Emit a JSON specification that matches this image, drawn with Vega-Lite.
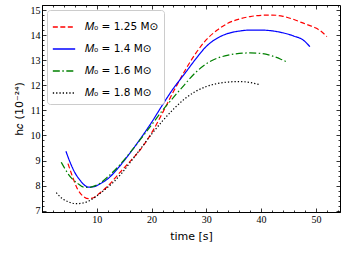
{
  "$schema": "https://vega.github.io/schema/vega-lite/v6.json",
  "width": 298,
  "height": 207,
  "autosize": {"type": "none"},
  "padding": {"left": 42, "top": 5, "right": 6, "bottom": 42},
  "background": "white",
  "config": {
    "view": {"stroke": "black", "strokeWidth": 1},
    "axis": {"grid": false, "domainColor": "black", "tickColor": "black", "labelColor": "black", "titleColor": "black"}
  },
  "datasets": {
    "curves": [
      {"s": "𝑀₀ = 1.25 M⊙", "t": 4.74, "h": 8.88}, {"s": "𝑀₀ = 1.25 M⊙", "t": 5.5, "h": 8.4}, {"s": "𝑀₀ = 1.25 M⊙", "t": 6.5, "h": 7.86}, {"s": "𝑀₀ = 1.25 M⊙", "t": 7.5, "h": 7.58}, {"s": "𝑀₀ = 1.25 M⊙", "t": 8.5, "h": 7.48}, {"s": "𝑀₀ = 1.25 M⊙", "t": 9.5, "h": 7.53}, {"s": "𝑀₀ = 1.25 M⊙", "t": 10.5, "h": 7.7}, {"s": "𝑀₀ = 1.25 M⊙", "t": 12, "h": 7.98}, {"s": "𝑀₀ = 1.25 M⊙", "t": 14, "h": 8.47}, {"s": "𝑀₀ = 1.25 M⊙", "t": 16, "h": 8.95}, {"s": "𝑀₀ = 1.25 M⊙", "t": 18, "h": 9.45}, {"s": "𝑀₀ = 1.25 M⊙", "t": 20, "h": 10.1}, {"s": "𝑀₀ = 1.25 M⊙", "t": 22, "h": 10.9}, {"s": "𝑀₀ = 1.25 M⊙", "t": 24, "h": 11.75}, {"s": "𝑀₀ = 1.25 M⊙", "t": 26, "h": 12.55}, {"s": "𝑀₀ = 1.25 M⊙", "t": 28, "h": 13.25}, {"s": "𝑀₀ = 1.25 M⊙", "t": 30, "h": 13.82}, {"s": "𝑀₀ = 1.25 M⊙", "t": 32, "h": 14.2}, {"s": "𝑀₀ = 1.25 M⊙", "t": 34, "h": 14.48}, {"s": "𝑀₀ = 1.25 M⊙", "t": 36, "h": 14.64}, {"s": "𝑀₀ = 1.25 M⊙", "t": 38, "h": 14.74}, {"s": "𝑀₀ = 1.25 M⊙", "t": 40, "h": 14.79}, {"s": "𝑀₀ = 1.25 M⊙", "t": 42, "h": 14.8}, {"s": "𝑀₀ = 1.25 M⊙", "t": 44, "h": 14.75}, {"s": "𝑀₀ = 1.25 M⊙", "t": 46, "h": 14.62}, {"s": "𝑀₀ = 1.25 M⊙", "t": 48, "h": 14.45}, {"s": "𝑀₀ = 1.25 M⊙", "t": 50, "h": 14.28}, {"s": "𝑀₀ = 1.25 M⊙", "t": 51, "h": 14.14}, {"s": "𝑀₀ = 1.25 M⊙", "t": 52, "h": 13.94},
      {"s": "𝑀₀ = 1.4 M⊙", "t": 4.37, "h": 9.37}, {"s": "𝑀₀ = 1.4 M⊙", "t": 5, "h": 9.0}, {"s": "𝑀₀ = 1.4 M⊙", "t": 6, "h": 8.52}, {"s": "𝑀₀ = 1.4 M⊙", "t": 7, "h": 8.2}, {"s": "𝑀₀ = 1.4 M⊙", "t": 7.6, "h": 8.05}, {"s": "𝑀₀ = 1.4 M⊙", "t": 8.5, "h": 7.94}, {"s": "𝑀₀ = 1.4 M⊙", "t": 9.5, "h": 7.96}, {"s": "𝑀₀ = 1.4 M⊙", "t": 10.5, "h": 8.06}, {"s": "𝑀₀ = 1.4 M⊙", "t": 12, "h": 8.27}, {"s": "𝑀₀ = 1.4 M⊙", "t": 14, "h": 8.73}, {"s": "𝑀₀ = 1.4 M⊙", "t": 16, "h": 9.28}, {"s": "𝑀₀ = 1.4 M⊙", "t": 18, "h": 9.88}, {"s": "𝑀₀ = 1.4 M⊙", "t": 20, "h": 10.52}, {"s": "𝑀₀ = 1.4 M⊙", "t": 22, "h": 11.22}, {"s": "𝑀₀ = 1.4 M⊙", "t": 24, "h": 11.88}, {"s": "𝑀₀ = 1.4 M⊙", "t": 26, "h": 12.45}, {"s": "𝑀₀ = 1.4 M⊙", "t": 28, "h": 13.03}, {"s": "𝑀₀ = 1.4 M⊙", "t": 30, "h": 13.55}, {"s": "𝑀₀ = 1.4 M⊙", "t": 32, "h": 13.88}, {"s": "𝑀₀ = 1.4 M⊙", "t": 34, "h": 14.07}, {"s": "𝑀₀ = 1.4 M⊙", "t": 36, "h": 14.16}, {"s": "𝑀₀ = 1.4 M⊙", "t": 38, "h": 14.2}, {"s": "𝑀₀ = 1.4 M⊙", "t": 40, "h": 14.2}, {"s": "𝑀₀ = 1.4 M⊙", "t": 42, "h": 14.17}, {"s": "𝑀₀ = 1.4 M⊙", "t": 44, "h": 14.09}, {"s": "𝑀₀ = 1.4 M⊙", "t": 46, "h": 13.96}, {"s": "𝑀₀ = 1.4 M⊙", "t": 47.7, "h": 13.8}, {"s": "𝑀₀ = 1.4 M⊙", "t": 48.9, "h": 13.54},
      {"s": "𝑀₀ = 1.6 M⊙", "t": 3.52, "h": 8.93}, {"s": "𝑀₀ = 1.6 M⊙", "t": 4.2, "h": 8.67}, {"s": "𝑀₀ = 1.6 M⊙", "t": 4.86, "h": 8.44}, {"s": "𝑀₀ = 1.6 M⊙", "t": 5.6, "h": 8.25}, {"s": "𝑀₀ = 1.6 M⊙", "t": 6.4, "h": 8.11}, {"s": "𝑀₀ = 1.6 M⊙", "t": 7.6, "h": 7.94}, {"s": "𝑀₀ = 1.6 M⊙", "t": 8.5, "h": 7.93}, {"s": "𝑀₀ = 1.6 M⊙", "t": 9.5, "h": 7.98}, {"s": "𝑀₀ = 1.6 M⊙", "t": 10.6, "h": 8.1}, {"s": "𝑀₀ = 1.6 M⊙", "t": 12, "h": 8.35}, {"s": "𝑀₀ = 1.6 M⊙", "t": 14, "h": 8.78}, {"s": "𝑀₀ = 1.6 M⊙", "t": 16, "h": 9.3}, {"s": "𝑀₀ = 1.6 M⊙", "t": 18, "h": 9.85}, {"s": "𝑀₀ = 1.6 M⊙", "t": 20, "h": 10.42}, {"s": "𝑀₀ = 1.6 M⊙", "t": 22, "h": 11.0}, {"s": "𝑀₀ = 1.6 M⊙", "t": 24, "h": 11.52}, {"s": "𝑀₀ = 1.6 M⊙", "t": 26, "h": 12.02}, {"s": "𝑀₀ = 1.6 M⊙", "t": 28, "h": 12.5}, {"s": "𝑀₀ = 1.6 M⊙", "t": 30, "h": 12.86}, {"s": "𝑀₀ = 1.6 M⊙", "t": 32, "h": 13.08}, {"s": "𝑀₀ = 1.6 M⊙", "t": 34, "h": 13.2}, {"s": "𝑀₀ = 1.6 M⊙", "t": 36, "h": 13.27}, {"s": "𝑀₀ = 1.6 M⊙", "t": 38, "h": 13.29}, {"s": "𝑀₀ = 1.6 M⊙", "t": 40, "h": 13.27}, {"s": "𝑀₀ = 1.6 M⊙", "t": 42, "h": 13.17}, {"s": "𝑀₀ = 1.6 M⊙", "t": 43.5, "h": 13.05}, {"s": "𝑀₀ = 1.6 M⊙", "t": 44.5, "h": 12.95},
      {"s": "𝑀₀ = 1.8 M⊙", "t": 2.6, "h": 7.72}, {"s": "𝑀₀ = 1.8 M⊙", "t": 3.3, "h": 7.56}, {"s": "𝑀₀ = 1.8 M⊙", "t": 3.94, "h": 7.45}, {"s": "𝑀₀ = 1.8 M⊙", "t": 5, "h": 7.34}, {"s": "𝑀₀ = 1.8 M⊙", "t": 5.77, "h": 7.29}, {"s": "𝑀₀ = 1.8 M⊙", "t": 6.4, "h": 7.28}, {"s": "𝑀₀ = 1.8 M⊙", "t": 7.5, "h": 7.31}, {"s": "𝑀₀ = 1.8 M⊙", "t": 8.5, "h": 7.38}, {"s": "𝑀₀ = 1.8 M⊙", "t": 9.4, "h": 7.5}, {"s": "𝑀₀ = 1.8 M⊙", "t": 10.3, "h": 7.64}, {"s": "𝑀₀ = 1.8 M⊙", "t": 11.5, "h": 7.85}, {"s": "𝑀₀ = 1.8 M⊙", "t": 13, "h": 8.13}, {"s": "𝑀₀ = 1.8 M⊙", "t": 14.5, "h": 8.48}, {"s": "𝑀₀ = 1.8 M⊙", "t": 16, "h": 8.9}, {"s": "𝑀₀ = 1.8 M⊙", "t": 18, "h": 9.47}, {"s": "𝑀₀ = 1.8 M⊙", "t": 20, "h": 10.05}, {"s": "𝑀₀ = 1.8 M⊙", "t": 22, "h": 10.58}, {"s": "𝑀₀ = 1.8 M⊙", "t": 24, "h": 11.05}, {"s": "𝑀₀ = 1.8 M⊙", "t": 26, "h": 11.45}, {"s": "𝑀₀ = 1.8 M⊙", "t": 28, "h": 11.75}, {"s": "𝑀₀ = 1.8 M⊙", "t": 30, "h": 11.95}, {"s": "𝑀₀ = 1.8 M⊙", "t": 32, "h": 12.07}, {"s": "𝑀₀ = 1.8 M⊙", "t": 34, "h": 12.13}, {"s": "𝑀₀ = 1.8 M⊙", "t": 36, "h": 12.15}, {"s": "𝑀₀ = 1.8 M⊙", "t": 38, "h": 12.11}, {"s": "𝑀₀ = 1.8 M⊙", "t": 39.8, "h": 12.02}
    ]
  },
  "data": {"name": "curves"},
  "resolve": {"axis": {"x": "independent", "y": "independent"}},
  "layer": [
    {
      "mark": {"type": "line", "interpolate": "monotone", "strokeWidth": 1.2},
      "encoding": {
        "x": {"field": "t", "type": "quantitative", "scale": {"domain": [0, 54.4], "nice": false, "zero": false},
          "axis": {"orient": "bottom", "title": "time [s]", "titleFont": "DejaVu Sans", "titleFontSize": 11, "titleFontWeight": "normal", "titlePadding": 4,
            "values": [0,2,4,6,8,10,12,14,16,18,20,22,24,26,28,30,32,34,36,38,40,42,44,46,48,50,52,54],
            "labelExpr": "datum.value % 10 === 0 && datum.value > 0 ? datum.label : ''",
            "labelFont": "Liberation Serif", "labelFontSize": 10, "labelPadding": 6,
            "tickSize": {"condition": {"test": "datum.value % 10 === 0", "value": -4}, "value": -2},
            "tickWidth": 0.8, "domainWidth": 1, "labelFlush": false, "labelOverlap": false}},
        "y": {"field": "h", "type": "quantitative", "scale": {"domain": [6.95, 15.2], "nice": false, "zero": false},
          "axis": {"orient": "left", "title": "h𝑐 (10⁻²⁴)", "titleFont": "DejaVu Sans", "titleFontSize": 11, "titleFontWeight": "normal", "titlePadding": 6,
            "values": [7,7.2,7.4,7.6,7.8,8,8.2,8.4,8.6,8.8,9,9.2,9.4,9.6,9.8,10,10.2,10.4,10.6,10.8,11,11.2,11.4,11.6,11.8,12,12.2,12.4,12.6,12.8,13,13.2,13.4,13.6,13.8,14,14.2,14.4,14.6,14.8,15],
            "labelExpr": "abs(datum.value - round(datum.value)) < 0.01 ? format(datum.value, 'd') : ''",
            "labelFont": "Liberation Serif", "labelFontSize": 10, "labelPadding": 6,
            "tickSize": {"condition": {"test": "abs(datum.value - round(datum.value)) < 0.01", "value": -4}, "value": -2},
            "tickWidth": 0.8, "domainWidth": 1, "labelFlush": false, "labelOverlap": false}},
        "color": {"field": "s", "type": "nominal",
          "scale": {"domain": ["𝑀₀ = 1.25 M⊙", "𝑀₀ = 1.4 M⊙", "𝑀₀ = 1.6 M⊙", "𝑀₀ = 1.8 M⊙"], "range": ["#ff0000", "#0000ff", "#008000", "#000000"]},
          "legend": {"title": null, "orient": "top-left", "offset": 5, "symbolType": "stroke", "symbolSize": 500, "symbolStrokeWidth": 1.3,
            "labelFont": "DejaVu Sans", "labelFontSize": 10.5, "labelColor": "black", "labelOffset": 9, "rowPadding": 4,
            "padding": 5, "strokeColor": "#cccccc", "fillColor": "white", "cornerRadius": 3}},
        "strokeDash": {"field": "s", "type": "nominal",
          "scale": {"domain": ["𝑀₀ = 1.25 M⊙", "𝑀₀ = 1.4 M⊙", "𝑀₀ = 1.6 M⊙", "𝑀₀ = 1.8 M⊙"], "range": [[5, 2.5], [1, 0], [7, 2.5, 1.5, 2.5], [1.3, 2]]},
          "legend": null}
      }
    },
    {
      "mark": {"type": "line", "opacity": 0},
      "encoding": {
        "x": {"field": "t", "type": "quantitative",
          "axis": {"orient": "top", "title": null, "labels": false, "domain": false,
            "values": [0,2,4,6,8,10,12,14,16,18,20,22,24,26,28,30,32,34,36,38,40,42,44,46,48,50,52,54],
            "tickSize": {"condition": {"test": "datum.value % 10 === 0", "value": -4}, "value": -2}, "tickWidth": 0.8}},
        "y": {"field": "h", "type": "quantitative",
          "axis": {"orient": "right", "title": null, "labels": false, "domain": false,
            "values": [7,7.2,7.4,7.6,7.8,8,8.2,8.4,8.6,8.8,9,9.2,9.4,9.6,9.8,10,10.2,10.4,10.6,10.8,11,11.2,11.4,11.6,11.8,12,12.2,12.4,12.6,12.8,13,13.2,13.4,13.6,13.8,14,14.2,14.4,14.6,14.8,15],
            "tickSize": {"condition": {"test": "abs(datum.value - round(datum.value)) < 0.01", "value": -4}, "value": -2}, "tickWidth": 0.8}},
        "detail": {"field": "s", "type": "nominal"}
      }
    }
  ]
}
